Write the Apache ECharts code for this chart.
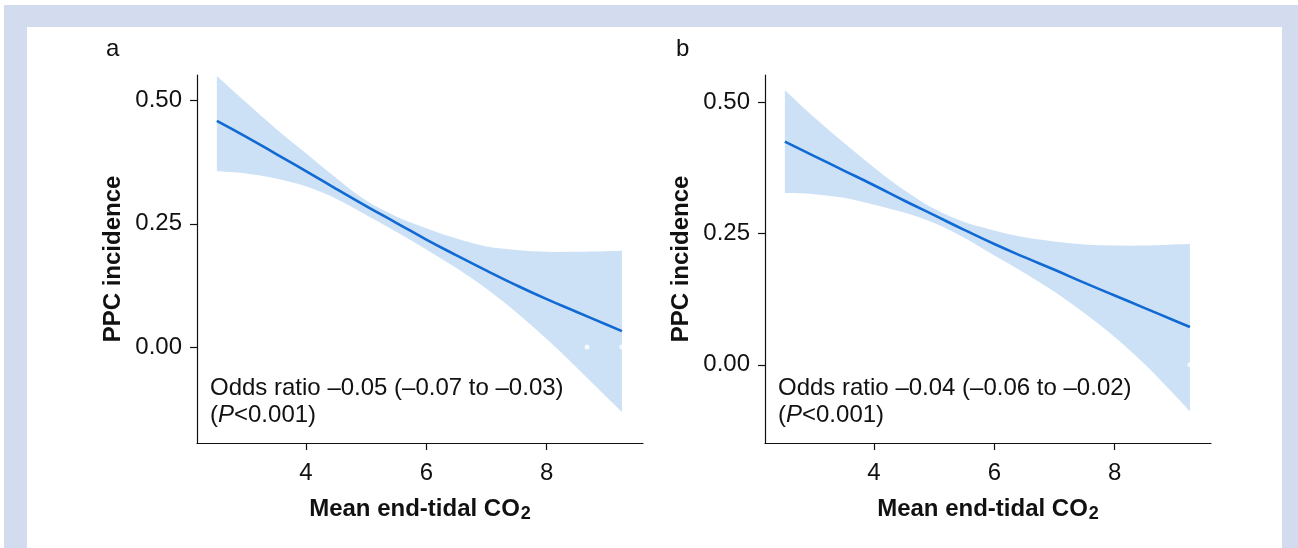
<!DOCTYPE html>
<html lang="en">
<head>
    <meta charset="UTF-8">
    <title>PPC incidence vs mean end-tidal CO2</title>
    <script src="https://cdn.jsdelivr.net/npm/echarts@6/dist/echarts.min.js"></script>
    <style>
        body, html {
            margin: 0;
            background: #fff;
        }

        #main {
            width: 1298px;
            height: 548px;
        }
    </style>
</head>
<body>
<div id="main"></div>
<script>
    // values
    const xs = [2.52, 3, 3.5, 4, 4.5, 5, 5.5, 6, 6.5, 7, 7.5, 8, 8.5, 9, 9.25];

    const fitA = [0.459, 0.427, 0.392, 0.357, 0.321, 0.286, 0.252, 0.218, 0.186, 0.155, 0.125, 0.097, 0.071, 0.045, 0.032];
    const upperA = [0.550, 0.497, 0.443, 0.393, 0.343, 0.297, 0.265, 0.241, 0.220, 0.204, 0.197, 0.193, 0.193, 0.194, 0.195];
    const lowerA = [0.357, 0.352, 0.342, 0.326, 0.301, 0.268, 0.234, 0.198, 0.160, 0.118, 0.070, 0.016, -0.042, -0.102, -0.132];

    const fitB = [0.425, 0.398, 0.370, 0.342, 0.313, 0.285, 0.257, 0.230, 0.205, 0.181, 0.156, 0.132, 0.108, 0.084, 0.072];
    const upperB = [0.523, 0.472, 0.423, 0.376, 0.333, 0.297, 0.272, 0.256, 0.243, 0.235, 0.229, 0.227, 0.227, 0.229, 0.230];
    const lowerB = [0.327, 0.325, 0.318, 0.305, 0.290, 0.270, 0.242, 0.208, 0.175, 0.139, 0.098, 0.053, 0.001, -0.058, -0.089];

    // raw points at 0 that show up white over the band
    const zeroPtsA = [8.67, 9.25];
    const zeroPtsB = [9.25];

    const xTicks = [4, 6, 8];
    const yTicks = [0, 0.25, 0.5];

    const noteA = 'Odds ratio \u20130.05 (\u20130.07 to \u20130.03)';
    const noteB = 'Odds ratio \u20130.04 (\u20130.06 to \u20130.02)';

    const FONT = 'Liberation Sans, Arial, sans-serif';
    const ink = '#111';
    const bandColor = '#cde1f6';
    const lineColor = '#1169d4';
    const frameColor = '#d3dcee';

    const chart = echarts.init(document.getElementById('main'), null, {renderer: 'canvas'});

    // catmull-rom through pixel points -> svg curve segments
    function curve(pts) {
        let d = '';
        for (let i = 0; i < pts.length - 1; i++) {
            const p0 = pts[Math.max(i - 1, 0)], p1 = pts[i], p2 = pts[i + 1], p3 = pts[Math.min(i + 2, pts.length - 1)];
            const c1 = [p1[0] + (p2[0] - p0[0]) / 6, p1[1] + (p2[1] - p0[1]) / 6];
            const c2 = [p2[0] - (p3[0] - p1[0]) / 6, p2[1] - (p3[1] - p1[1]) / 6];
            d += ' C' + c1 + ' ' + c2 + ' ' + p2;
        }
        return d;
    }

    function band(gi, upper, lower) {
        return {
            type: 'custom',
            xAxisIndex: gi,
            yAxisIndex: gi,
            silent: true,
            z: 1,
            data: [[xs[0], upper[0]]],
            renderItem: function (params, api) {
                const top = xs.map((x, i) => api.coord([x, upper[i]]));
                const bot = xs.map((x, i) => api.coord([x, lower[i]])).reverse();
                const d = 'M' + top[0] + curve(top) + ' L' + bot[0] + curve(bot) + ' Z';
                return {type: 'path', shape: {pathData: d}, style: {fill: bandColor}};
            }
        };
    }

    function fit(gi, vals) {
        return {
            type: 'line',
            xAxisIndex: gi,
            yAxisIndex: gi,
            z: 4,
            smooth: true,
            showSymbol: false,
            silent: true,
            lineStyle: {color: lineColor, width: 2.6},
            data: xs.map((x, i) => [x, vals[i]])
        };
    }

    function dots(gi, pts) {
        return {
            type: 'scatter',
            xAxisIndex: gi,
            yAxisIndex: gi,
            z: 3,
            silent: true,
            symbolSize: 5,
            itemStyle: {color: '#fff'},
            data: pts.map(x => [x, 0])
        };
    }

    function xAxis(gi) {
        return {
            gridIndex: gi,
            type: 'value',
            min: 2.19,
            max: 9.6,
            splitLine: {show: false},
            axisLine: {onZero: false, lineStyle: {color: ink, width: 1.2}},
            axisTick: {length: 7, customValues: xTicks, lineStyle: {color: ink, width: 1.2}},
            axisLabel: {customValues: xTicks, fontSize: 24, color: ink, fontFamily: FONT, margin: 18},
            name: 'Mean end-tidal CO{sub|2}',
            nameLocation: 'middle',
            nameGap: 52,
            nameTextStyle: {
                fontSize: 24, fontWeight: 'bold', color: ink, fontFamily: FONT,
                rich: {sub: {fontSize: 18, fontWeight: 'bold', color: ink, fontFamily: FONT, verticalAlign: 'bottom', padding: [10, 0, 0, 1]}}
            }
        };
    }

    function yAxis(gi, min) {
        return {
            gridIndex: gi,
            type: 'value',
            min: min,
            max: 0.552,
            splitLine: {show: false},
            axisLine: {onZero: false, lineStyle: {color: ink, width: 1.2}},
            axisTick: {length: 7, customValues: yTicks, lineStyle: {color: ink, width: 1.2}},
            axisLabel: {
                customValues: yTicks, fontSize: 24, color: ink, fontFamily: FONT, margin: 15,
                formatter: v => v.toFixed(2)
            },
            name: 'PPC incidence',
            nameLocation: 'middle',
            nameRotate: 90,
            nameGap: 72,
            nameTextStyle: {fontSize: 24, fontWeight: 'bold', color: ink, fontFamily: FONT}
        };
    }

    function text(x, y, str, extra) {
        return Object.assign({
            type: 'text', x: x, y: y, silent: true, z: 10,
            style: {text: str, fill: ink, font: '24px ' + FONT, textVerticalAlign: 'middle'}
        }, extra || {});
    }

    function pNote(x, y) {
        return {
            type: 'text', x: x, y: y, silent: true, z: 10,
            style: {
                text: '{n|(}{i|P}{n|<0.001)}', textVerticalAlign: 'middle',
                rich: {
                    n: {fontSize: 24, fontFamily: FONT, fill: ink, color: ink},
                    i: {fontSize: 24, fontFamily: FONT, fontStyle: 'italic', fill: ink, color: ink}
                }
            }
        };
    }

    const option = {
        backgroundColor: '#fff',
        animation: false,
        textStyle: {fontFamily: FONT},
        grid: [
            {left: 197, top: 75, width: 446, height: 368},
            {left: 765, top: 75, width: 446, height: 368}
        ],
        xAxis: [xAxis(0), xAxis(1)],
        yAxis: [yAxis(0, -0.195), yAxis(1, -0.149)],
        series: [
            band(0, upperA, lowerA),
            fit(0, fitA),
            dots(0, zeroPtsA),
            band(1, upperB, lowerB),
            fit(1, fitB),
            dots(1, zeroPtsB)
        ],
        graphic: [
            // light frame round the figure
            {type: 'rect', shape: {x: 4, y: 5, width: 1294, height: 22}, style: {fill: frameColor}, silent: true},
            {type: 'rect', shape: {x: 4, y: 5, width: 23, height: 543}, style: {fill: frameColor}, silent: true},
            {type: 'rect', shape: {x: 1282, y: 5, width: 16, height: 543}, style: {fill: frameColor}, silent: true},
            text(106, 49.5, 'a'),
            text(676, 49.5, 'b'),
            text(210, 388.5, noteA),
            pNote(210, 415),
            text(778, 388.5, noteB),
            pNote(778, 415)
        ]
    };

    chart.setOption(option);
</script>
</body>
</html>
